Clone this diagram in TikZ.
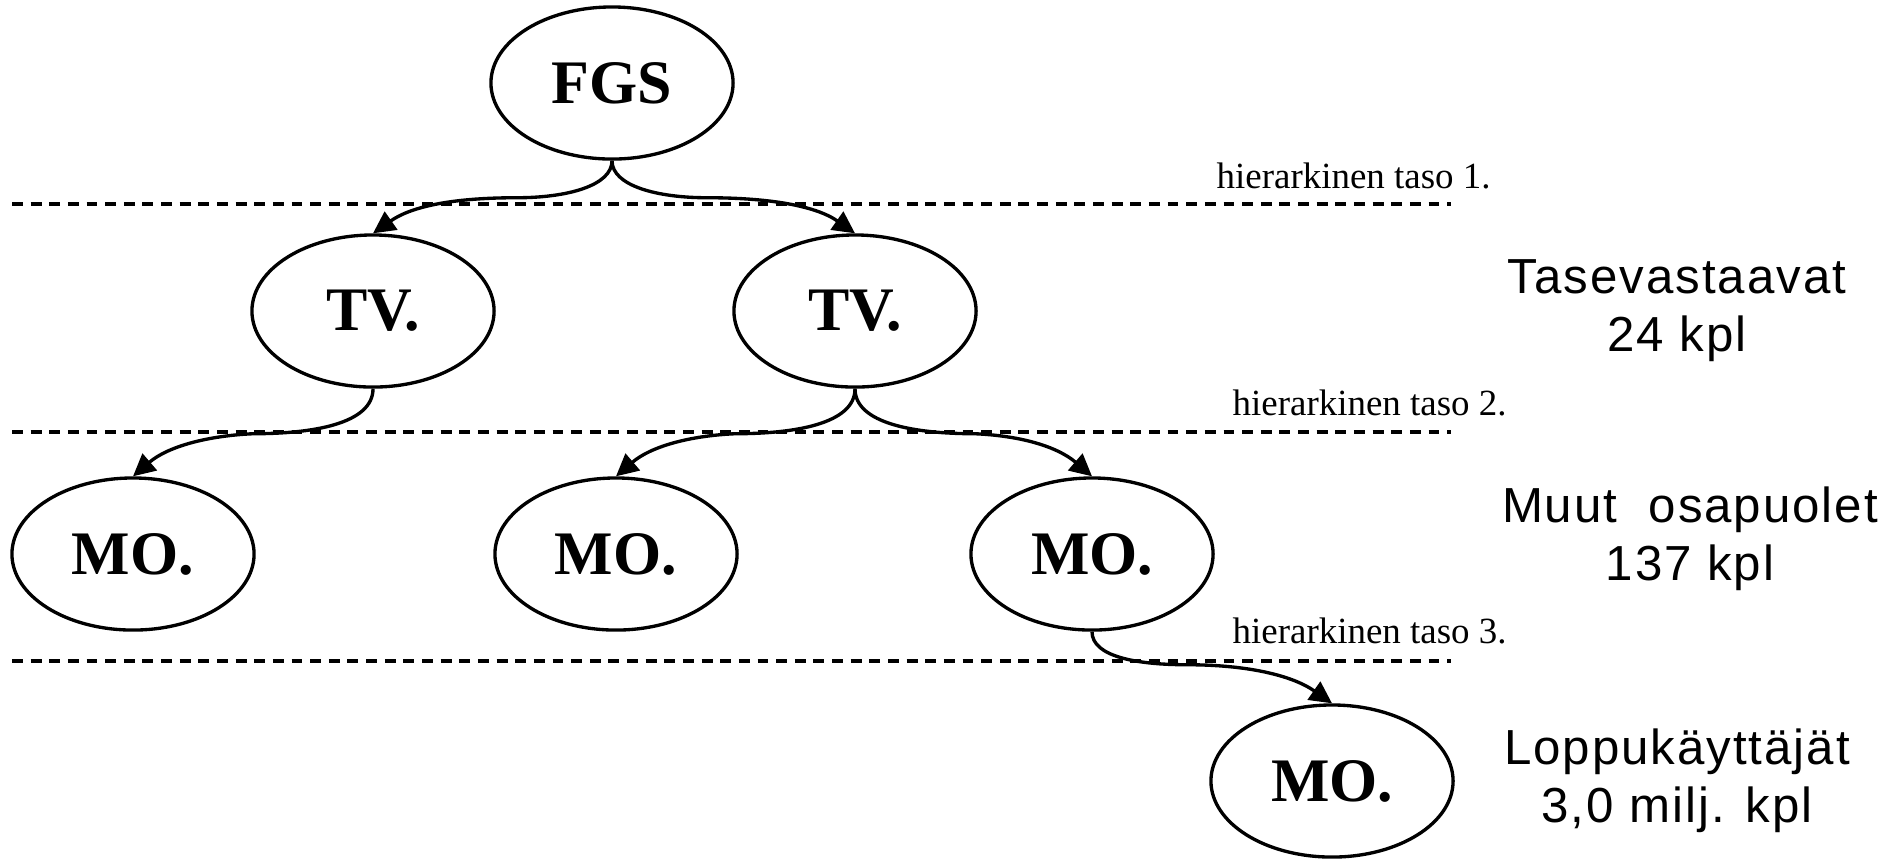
\documentclass[tikz,border=0pt]{standalone}
\usepackage{fontspec}
\setmainfont{Liberation Serif}
\newfontfamily\sidefont{Liberation Sans}[LetterSpace=4]
\usetikzlibrary{arrows.meta,shapes.geometric}

\begin{document}
\begin{tikzpicture}[x=0.01cm, y=-0.01cm,
  ent/.style={draw, ellipse, line width=0.95pt, minimum width=2.42cm, minimum height=1.52cm, inner sep=0pt, font=\fontsize{17.6}{20}\selectfont\bfseries},
  lvl/.style={line width=0.95pt, dash pattern=on 3.1pt off 2.2pt},
  tag/.style={anchor=base west, inner sep=0pt, font=\fontsize{10.5}{12}\selectfont},
  side/.style={align=center, inner sep=0pt, font=\sidefont\fontsize{14}{16.5}\selectfont},
  arr/.style={-{Triangle[length=6.3pt, width=6.2pt]}, line width=0.95pt}
]
  \useasboundingbox (0,0) rectangle (1901,859);

  % level separators
  \foreach \yy in {204,432,661}
    \draw[lvl] (12,\yy) -- (1451,\yy);
  \node[tag] (t1) at (1216,188) {hierarkinen taso 1.};
  \node[tag] (t2) at (1232,415) {hierarkinen taso 2.};
  \node[tag] (t3) at (1232,643) {hierarkinen taso 3.};

  % hierarchy
  \node[ent] (fgs) at (612,83) {FGS};
  \node[ent] (tv1) at (373,311) {TV.};
  \node[ent] (tv2) at (855,311) {TV.};
  \node[ent] (mo1) at (133,554) {MO.};
  \node[ent] (mo2) at (616,554) {MO.};
  \node[ent] (mo3) at (1092,554) {MO.};
  \node[ent] (mo4) at (1332,781) {MO.};

  \draw[arr] (fgs.south) .. controls +(0,25) and +(50,0) .. ++(-95,37)
    .. controls +(-60,0) and +(40,-28) .. (tv1.north);
  \draw[arr] (fgs.south) .. controls +(0,25) and +(-50,0) .. ++(95,37)
    .. controls +(60,0) and +(-40,-28) .. (tv2.north);
  \draw[arr] (tv1.south) .. controls +(0,35) and +(60,0) .. ++(-120,45)
    .. controls +(-45,2) and +(35,-30) .. (mo1.north);
  \draw[arr] (tv2.south) .. controls +(0,35) and +(60,0) .. ++(-120,45)
    .. controls +(-45,2) and +(35,-30) .. (mo2.north);
  \draw[arr] (tv2.south) .. controls +(0,35) and +(-60,0) .. ++(120,45)
    .. controls +(45,2) and +(-35,-30) .. (mo3.north);
  \draw[arr] (mo3.south) .. controls +(0,25) and +(-50,0) .. ++(95,33)
    .. controls +(60,0) and +(-40,-28) .. (mo4.north);

  % counts per level
  \node[side] (s1) at (1677,311) {Tasevastaavat\\24 kpl};
  \node[side] (s2) at (1690,539) {Muut~ osapuolet\\137 kpl};
  \node[side] (s3) at (1677,781) {Loppukäyttäjät\\3,0 milj. kpl};
\end{tikzpicture}
\end{document}
